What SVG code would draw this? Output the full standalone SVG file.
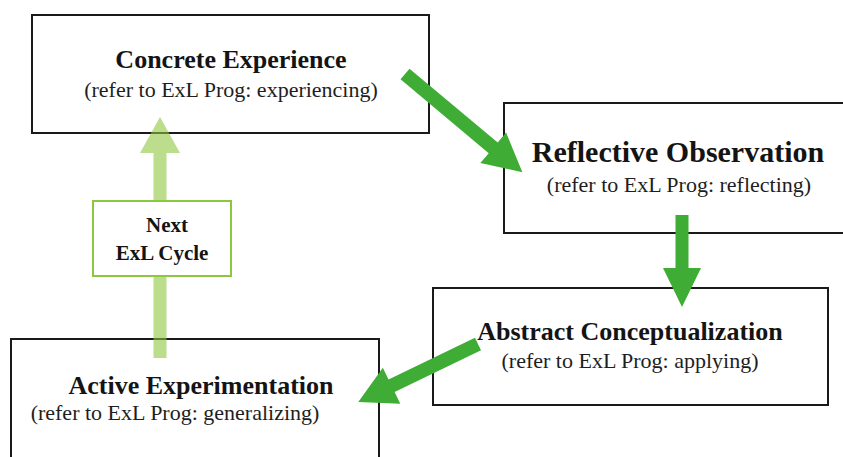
<svg xmlns="http://www.w3.org/2000/svg" width="843" height="457" viewBox="0 0 843 457">
  <style>
    .box { fill: #ffffff; stroke: #1a1a1a; stroke-width: 2; }
    .cycle { fill: #ffffff; stroke: #8dc63f; stroke-width: 2; }
    .title { font-family: "Liberation Serif", "Times New Roman", serif; font-weight: bold; fill: #141414; text-anchor: middle; }
    .sub { font-family: "Liberation Serif", "Times New Roman", serif; font-size: 22px; fill: #1e1e1e; text-anchor: middle; }
    .flow { fill: #3fad35; }
    .next { fill: #8dc63f; fill-opacity: 0.6; }
  </style>
  <rect width="843" height="457" fill="#ffffff"/>

  <g id="concrete-experience">
    <rect class="box" x="32" y="15" width="397" height="118"/>
    <text class="title" x="231" y="68" font-size="26">Concrete Experience</text>
    <text class="sub" x="231" y="97">(refer to ExL Prog: experiencing)</text>
  </g>

  <g id="reflective-observation">
    <rect class="box" x="504" y="103" width="350" height="130"/>
    <text class="title" x="678" y="162" font-size="30">Reflective Observation</text>
    <text class="sub" x="679" y="192">(refer to ExL Prog: reflecting)</text>
  </g>

  <g id="abstract-conceptualization">
    <rect class="box" x="433" y="288" width="395" height="117"/>
    <text class="title" x="630" y="340" font-size="26">Abstract Conceptualization</text>
    <text class="sub" x="630" y="368">(refer to ExL Prog: applying)</text>
  </g>

  <g id="active-experimentation">
    <rect class="box" x="11" y="339" width="368" height="130"/>
    <text class="title" x="201" y="394" font-size="26">Active Experimentation</text>
    <text class="sub" x="175" y="420">(refer to ExL Prog: generalizing)</text>
  </g>

  <!-- block arrows: shaft + head, drawn along +x then placed -->
  <g id="connectors">
    <polygon class="flow" transform="translate(405,74) rotate(39.9)"
      points="0,-7 115,-7 115,-20 153,0 115,20 115,7 0,7"/>
    <polygon class="flow" transform="translate(682,215) rotate(90)"
      points="0,-6.5 53,-6.5 53,-19 92,0 53,19 53,6.5 0,6.5"/>
    <polygon class="flow" transform="translate(478,344) rotate(154.2)"
      points="0,-7 96,-7 96,-20 133,0 96,20 96,7 0,7"/>
    <polygon class="next" transform="translate(160,358) rotate(-90)"
      points="0,-6.5 205,-6.5 205,-20 241,0 205,20 205,6.5 0,6.5"/>
  </g>

  <g id="next-cycle">
    <rect class="cycle" x="93" y="201" width="138" height="75"/>
    <text class="title" x="167" y="232" font-size="21">Next</text>
    <text class="title" x="162" y="260" font-size="21">ExL Cycle</text>
  </g>
</svg>
